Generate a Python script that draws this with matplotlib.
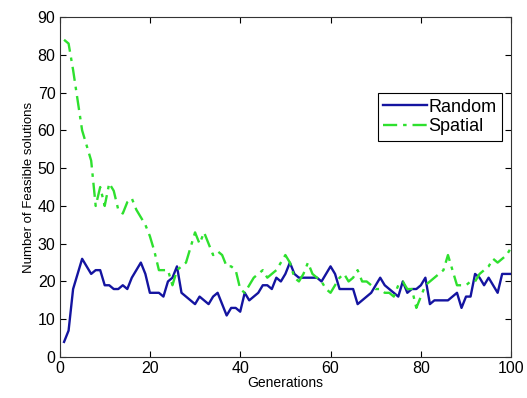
import matplotlib
matplotlib.use("Agg")
import matplotlib.pyplot as plt
import numpy as np

generations = list(range(1, 101))
random_vals = [4, 7, 18, 22, 26, 24, 22, 23, 23, 19,
               19, 18, 18, 19, 18, 21, 23, 25, 22, 17,
               17, 17, 16, 20, 21, 24, 17, 16, 15, 14,
               16, 15, 14, 16, 17, 14, 11, 13, 13, 12,
               17, 15, 16, 17, 19, 19, 18, 21, 20, 22,
               25, 22, 21, 21, 21, 21, 21, 20, 22, 24,
               22, 18, 18, 18, 18, 14, 15, 16, 17, 19,
               21, 19, 18, 17, 16, 20, 17, 18, 18, 19,
               21, 14, 15, 15, 15, 15, 16, 17, 13, 16,
               16, 22, 21, 19, 21, 19, 17, 22, 22, 22]
spatial_vals = [84, 83, 76, 68, 60, 56, 52, 40, 45, 40,
                46, 44, 39, 38, 41, 42, 39, 37, 35, 32,
                28, 23, 23, 23, 19, 23, 24, 25, 29, 33,
                30, 33, 30, 27, 28, 27, 24, 24, 23, 18,
                17, 19, 21, 22, 23, 21, 22, 23, 25, 27,
                25, 21, 20, 22, 25, 22, 21, 20, 18, 17,
                19, 21, 22, 20, 21, 23, 20, 20, 19, 18,
                18, 17, 17, 16, 19, 20, 18, 18, 13, 16,
                19, 20, 21, 22, 23, 27, 23, 19, 19, 19,
                20, 20, 22, 23, 24, 26, 25, 26, 27, 29]
x_ticks = [0, 20, 40, 60, 80, 100]
y_ticks = [0, 10, 20, 30, 40, 50, 60, 70, 80, 90]

plt.rcParams['font.family'] = ['Liberation Sans', 'DejaVu Sans']

fig = plt.figure(figsize=(5.27, 3.98), dpi=100)
ax = fig.add_axes([0.113, 0.103, 0.857, 0.854])

ax.plot(generations, random_vals, color='#1414a0', linewidth=1.7, label='Random')
ax.plot(generations, spatial_vals, color='#2ee02e', linewidth=1.7,
        dashes=(6, 2.5, 1.5, 2.5), label='Spatial')

ax.set_xlim(0, 100)
ax.set_ylim(0, 90)
ax.set_xticks(x_ticks)
ax.set_yticks(y_ticks)
ax.tick_params(direction='in', top=True, right=True, labelsize=11.5, length=4, width=0.8, pad=3)
for s in ax.spines.values():
    s.set_linewidth(0.8)
    s.set_color('#333333')

ax.set_xlabel('Generations', fontsize=10, labelpad=0)
ax.set_ylabel('Number of Feasible solutions', fontsize=9.5, labelpad=2)

leg = ax.legend(loc='upper right', bbox_to_anchor=(0.98, 0.776), fontsize=13,
                frameon=True, fancybox=False, edgecolor='black', framealpha=1,
                handlelength=2.4, borderpad=0.3, labelspacing=0.15, handletextpad=0.1,
                borderaxespad=0)
leg.get_frame().set_linewidth(0.8)

fig.savefig('out.png', dpi=100)
